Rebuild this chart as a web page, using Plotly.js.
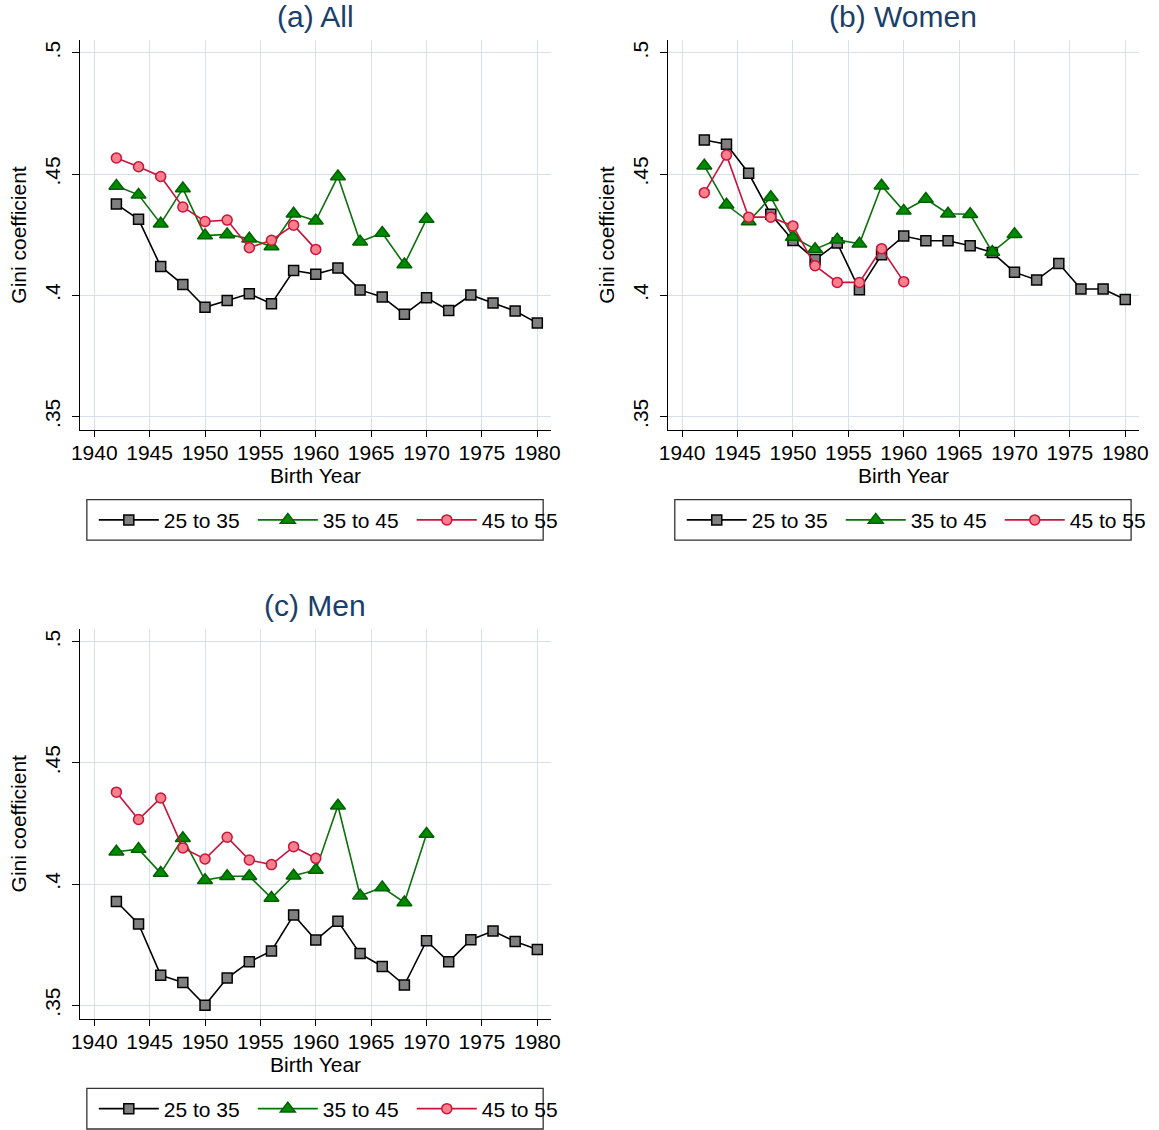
<!DOCTYPE html>
<html>
<head>
<meta charset="utf-8">
<script src="https://cdn.plot.ly/plotly-3.0.1.min.js"></script>
<style>
  html, body { margin: 0; padding: 0; background: #ffffff; }
  #chart { width: 1159px; height: 1130px; }
</style>
</head>
<body>
<div id="chart"></div>
<script>
// ---------- data ----------
const years = [1942,1944,1946,1948,1950,1952,1954,1956,1958,1960,1962,1964,1966,1968,1970,1972,1974,1976,1978,1980];
const seriesNames = ["25 to 35", "35 to 45", "45 to 55"];
const panelTitles = ["(a) All", "(b) Women", "(c) Men"];

// (a) All
const all_25_35 = [0.4376,0.4313,0.4119,0.4044,0.3950,0.3978,0.4006,0.3965,0.4102,0.4087,0.4112,0.4022,0.3993,0.3922,0.3990,0.3937,0.4001,0.3968,0.3935,0.3885];
const all_35_45 = [0.4451,0.4414,0.4295,0.4440,0.4246,0.4251,0.4233,0.4201,0.4336,0.4307,0.4490,0.4221,0.4257,0.4127,0.4314];
const all_45_55 = [0.4566,0.4530,0.4490,0.4364,0.4304,0.4310,0.4196,0.4227,0.4289,0.4189];

// (b) Women
const women_25_35 = [0.4640,0.4623,0.4503,0.4334,0.4226,0.4147,0.4215,0.4023,0.4167,0.4244,0.4225,0.4225,0.4204,0.4176,0.4095,0.4063,0.4131,0.4026,0.4026,0.3982];
const women_35_45 = [0.4534,0.4373,0.4304,0.4404,0.4240,0.4190,0.4229,0.4212,0.4452,0.4348,0.4397,0.4336,0.4334,0.4178,0.4252];
const women_45_55 = [0.4423,0.4578,0.4322,0.4322,0.4286,0.4122,0.4053,0.4053,0.4192,0.4056];

// (c) Men
const men_25_35 = [0.3928,0.3835,0.3624,0.3594,0.3500,0.3612,0.3679,0.3724,0.3872,0.3769,0.3846,0.3713,0.3660,0.3583,0.3766,0.3679,0.3770,0.3806,0.3763,0.3730];
const men_35_45 = [0.4133,0.4144,0.4045,0.4189,0.4016,0.4032,0.4032,0.3942,0.4034,0.4058,0.4323,0.3952,0.3986,0.3924,0.4206];
const men_45_55 = [0.4379,0.4266,0.4355,0.4149,0.4103,0.4193,0.4099,0.4080,0.4154,0.4106];

const xTickVals = [1940,1945,1950,1955,1960,1965,1970,1975,1980];
const xTickText = ["1940","1945","1950","1955","1960","1965","1970","1975","1980"];
const yTickVals = [0.35,0.40,0.45,0.50];
const yTickText = [".35",".4",".45",".5"];

// ---------- layout helpers ----------
const W = 1159, H = 1130;
const FONT = "Liberation Sans, Arial, Helvetica, sans-serif";
const px = v => v / W;
const py = v => 1 - v / H;

const panels = [
  { data: [all_25_35, all_35_45, all_45_55],       dx: 0,   dy: 0 },
  { data: [women_25_35, women_35_45, women_45_55], dx: 591, dy: 0 },
  { data: [men_25_35, men_35_45, men_45_55],       dx: 0,   dy: 589.3 }
];

const styles = [
  { line: "#000000", symbol: "square",      size: 10, fill: "#808080", outline: "#000000" },
  { line: "#0a700a", symbol: "triangle-up", size: 13, fill: "#008a00", outline: "#006000" },
  { line: "#c8143c", symbol: "circle",      size: 10, fill: "#f7808b", outline: "#c8143c" }
];

const traces = [];
const layout = {
  width: W, height: H,
  margin: { l: 0, r: 0, t: 0, b: 0 },
  paper_bgcolor: "#ffffff",
  plot_bgcolor: "#ffffff",
  font: { family: FONT, size: 20, color: "#000000" },
  annotations: [],
  shapes: []
};

panels.forEach((p, i) => {
  const ax = i === 0 ? "" : String(i + 1);
  const legName = i === 0 ? "legend" : "legend" + (i + 1);

  p.data.forEach((vals, s) => {
    const st = styles[s];
    traces.push({
      type: "scatter", mode: "lines+markers",
      x: years.slice(0, vals.length), y: vals,
      name: seriesNames[s],
      xaxis: "x" + ax, yaxis: "y" + ax,
      legend: legName,
      line: { color: st.line, width: 1.6 },
      marker: { symbol: st.symbol, size: st.size, color: st.fill,
                line: { color: st.outline, width: 1.5 } },
      cliponaxis: false
    });
  });

  const left = 80.7 + p.dx, right = 553.7 + p.dx;
  const top = 40 + p.dy, bottom = 430.4 + p.dy;

  layout["xaxis" + ax] = {
    domain: [px(left), px(right)],
    anchor: "y" + ax,
    range: [1938.74, 1981.22],
    tickvals: xTickVals, ticktext: xTickText,
    ticks: "outside", ticklen: 6, tickwidth: 1, tickcolor: "#000000",
    ticklabelstandoff: -2,
    showline: true, linecolor: "#000000", linewidth: 1, mirror: false,
    showgrid: true, gridcolor: "#d6dfea", gridwidth: 1,
    zeroline: false,
    tickfont: { family: FONT, size: 21, color: "#000000" },
    title: { text: "Birth Year", font: { family: FONT, size: 21, color: "#000000" }, standoff: 2 }
  };
  layout["yaxis" + ax] = {
    domain: [py(bottom), py(top)],
    anchor: "x" + ax,
    range: [0.3444, 0.5053],
    tickvals: yTickVals, ticktext: yTickText,
    tickangle: -90,
    ticks: "outside", ticklen: 7, tickwidth: 1, tickcolor: "#000000",
    ticklabelstandoff: 4,
    showline: true, linecolor: "#000000", linewidth: 1, mirror: false,
    showgrid: true, gridcolor: "#d6dfea", gridwidth: 1,
    zeroline: false,
    tickfont: { family: FONT, size: 21, color: "#000000" },
    title: { text: "Gini coefficient", font: { family: FONT, size: 21, color: "#000000" }, standoff: 8 }
  };

  // panel title
  layout.annotations.push({
    text: panelTitles[i], xref: "paper", yref: "paper",
    x: px(317 + p.dx), y: py(17 + p.dy), xanchor: "center", yanchor: "middle",
    showarrow: false, font: { family: FONT, size: 30, color: "#1a3f6a" }
  });

  // legend frame
  layout.shapes.push({
    type: "rect", xref: "paper", yref: "paper",
    x0: px(87.3 + p.dx), x1: px(546 + p.dx), y0: py(500 + p.dy), y1: py(540.7 + p.dy),
    line: { color: "#333333", width: 1.3 }, fillcolor: "rgba(0,0,0,0)", layer: "below"
  });

  layout[legName] = {
    orientation: "h",
    x: px(94.3 + p.dx), xanchor: "left",
    y: py(520.7 + p.dy), yanchor: "middle",
    bgcolor: "rgba(0,0,0,0)", borderwidth: 0,
    font: { family: FONT, size: 21, color: "#000000" },
    itemwidth: 60,
    entrywidth: 84, entrywidthmode: "pixels",
    itemclick: false, itemdoubleclick: false
  };
});

Plotly.newPlot("chart", traces, layout, { displayModeBar: false, staticPlot: true });
</script>
</body>
</html>
